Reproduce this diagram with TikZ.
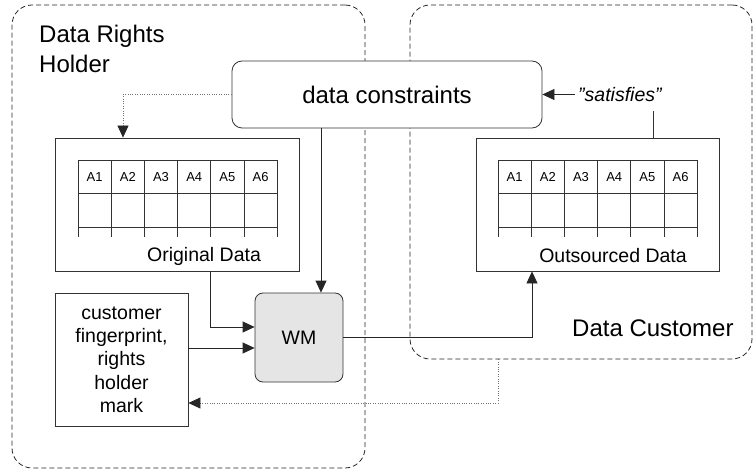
\documentclass[tikz,border=0pt]{standalone}
\usepackage{fontspec}
\setmainfont{Liberation Sans}
\usetikzlibrary{arrows.meta,positioning}

\tikzset{
  box/.style={draw=black!80, line width=0.8pt, inner sep=0pt},
  region/.style={draw=black!85, line width=0.8pt, dash pattern=on 5pt off 3pt, rounded corners=20pt},
  grid/.style={draw=black!80, line width=0.8pt},
  flow/.style={draw=black!85, line width=0.8pt, -{Triangle[length=12pt,width=11pt]}},
  hint/.style={draw=black!55, line width=0.8pt, dash pattern=on 0.8pt off 1.6pt, -{Triangle[length=12pt,width=11pt,black!85]}},
  big/.style={font=\fontsize{24}{30}\selectfont},
  mid/.style={font=\fontsize{19.5}{23.3}\selectfont},
  cell/.style={font=\fontsize{13}{15}\selectfont, inner sep=0pt, text height=9.3pt, text depth=0pt}
}

\begin{document}
\begin{tikzpicture}[x=1pt,y=-1pt]
    \useasboundingbox (0,0) rectangle (754,470);
		% the two parties
		\node[region, minimum width=353, minimum height=463] (holder) at (188.5,236.5) {};
		\node[region, minimum width=342, minimum height=354] (client) at (581,182) {};
		\node[big, anchor=north west, align=left, inner sep=0pt] (holdertxt) at (39,24.5) {Data Rights\\Holder};
		\node[big, anchor=base west, inner sep=0pt] (clienttxt) at (572,336) {Data Customer};
		% boxes
		\node[box, fill=white, rounded corners=10pt, minimum width=310, minimum height=67, big] (dc) at (387,94.5) {data constraints};
		\node[box, minimum width=244, minimum height=133] (orig) at (177,204.5) {};
		\node[box, minimum width=243, minimum height=133] (out) at (597.5,204.5) {};
		\node[box, fill=black!10, rounded corners=8pt, minimum width=88, minimum height=89, mid] (wm) at (299,337.5) {WM};
		\node[box, minimum width=133, minimum height=133, mid, align=center] (cust) at (121.5,359.5) {customer\\fingerprint,\\rights\\holder\\mark};
		\node[mid] (origtxt) at (204,256) {Original Data};
		\node[mid] (outtxt) at (613,256) {Outsourced Data};
		% tables of attributes
		\foreach \tx/\tab in {78/orig,498/out}
		{
			\foreach \c in {0,...,6}
				\draw[grid] (\tx+\c*33.2,160) -- (\tx+\c*33.2,237);
			\foreach \r in {160,193,227}
				\draw[grid] (\tx,\r) -- (\tx+199.2,\r);
			\foreach \c in {1,...,6}
				\node[cell] (\tab-a\c) at (\tx+\c*33.2-16.6,176.5) {A\c};
		}
		% watermarking flow
		\draw[flow] ([xshift=22pt]wm.north |- dc.south) -- ([xshift=22pt]wm.north);
		\draw[flow] ([xshift=33pt]orig.south) |- ([yshift=10.5pt]wm.west);
		\draw[flow] ([yshift=11.5pt]cust.east) -- ([yshift=11.5pt]cust.east -| wm.west);
		\draw[flow] (wm.east) -| ([xshift=-65.5pt]out.south);
		% dotted hints
		\draw[hint] (dc.west) -| ([xshift=-54pt]orig.north);
		\draw[hint] ([xshift=-83pt]client.south) |- ([yshift=-43.5pt]cust.east);
		% satisfies
		\node[mid, font=\fontsize{19.5}{23.3}\selectfont\itshape, inner sep=3pt, anchor=west] (sat) at (575,94.5) {"satisfies"};
		\draw[grid] ([xshift=55.5pt]out.north) -- ([xshift=55.5pt,yshift=-6pt]out.north |- sat.south);
		\draw[flow] (sat.west) -- (sat.west -| dc.east);
	\end{tikzpicture}
\end{document}
